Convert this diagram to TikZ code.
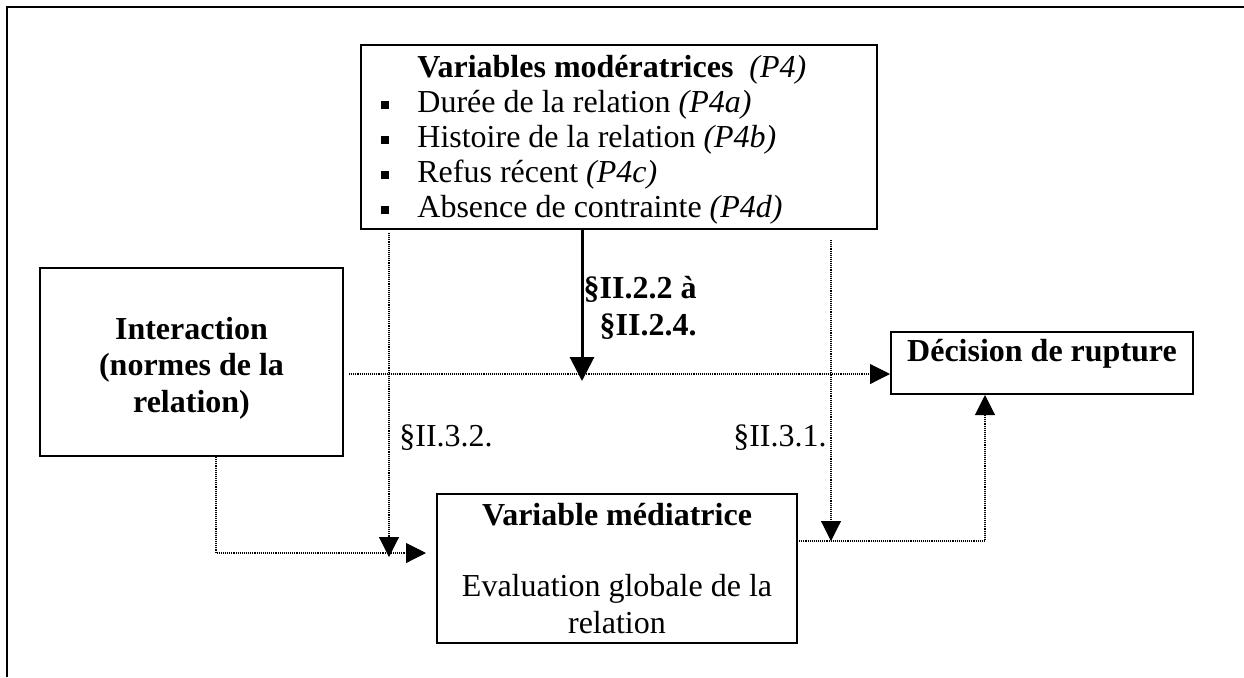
\documentclass[tikz,border=0pt]{standalone}
\usepackage{fontspec}
\setmainfont{Liberation Serif}
\usetikzlibrary{arrows.meta,calc}
\newcommand{\bsq}{\makebox[18pt][l]{\rule[1.6pt]{4pt}{4pt}}}
\begin{document}
\begin{tikzpicture}[x=0.5pt,y=-0.5pt,
  txt/.style={font=\fontsize{16}{18.3}\selectfont},
  btxt/.style={font=\fontsize{16}{18.3}\selectfont\bfseries},
  box/.style={draw,line width=1pt,inner sep=0pt,txt},
  dotline/.style={line width=0.55pt,dash pattern=on 0.55pt off 0.5pt,-{Triangle[length=10pt,width=10pt]}},
  thickarrow/.style={line width=1.5pt,-{Triangle[length=12pt,width=12pt]}}]
\useasboundingbox (0,0) rectangle (1244,677);
% outer frame
\draw[line width=0.8pt] (1244,7) -- (7,7) -- (7,677);
% boxes
\node[box,minimum width=258pt,minimum height=92pt] (mod) at (619,137) {};
\node[font=\fontsize{16}{17.5}\selectfont,anchor=north west,inner sep=0pt,align=left] (modtxt) at (381,55)
  {\hspace*{18pt}\textbf{Variables modératrices}\hspace{8pt}\textit{(P4)}\\
   \bsq Durée de la relation \textit{(P4a)}\\
   \bsq Histoire de la relation \textit{(P4b)}\\
   \bsq Refus récent \textit{(P4c)}\\
   \bsq Absence de contrainte \textit{(P4d)}};
\node[box,minimum width=151.5pt,minimum height=94pt] (inter) at (191.5,362) {};
\node[btxt,align=center,inner sep=0pt] (intertxt) at (191.5,368) {Interaction\\(normes de la\\relation)};
\node[box,minimum width=151pt,text height=14.75pt,text depth=16.25pt,font=\fontsize{16}{18.3}\selectfont\bfseries] (dec) at (1042,331) [anchor=north] {Décision de rupture};
\node[box,minimum width=180pt,minimum height=74.5pt,align=center] (med) at (617,568.5)
  {\textbf{Variable médiatrice}\\[17pt]Evaluation globale de la\\relation};
% labels
\node[font=\fontsize{16}{18.3}\selectfont\bfseries,align=right,inner sep=0pt,anchor=east] (l22) at (697,308) {§II.2.2 à\\§II.2.4.};
\node[txt,inner sep=0pt,anchor=west] (l32) at (399,438) {§II.3.2.};
\node[txt,inner sep=0pt,anchor=east] (l31) at (827,438) {§II.3.1.};
% coordinates
\coordinate (thtip) at (582,381);
\coordinate (hL) at (349,374);
\coordinate (v1t) at (389,233);
\coordinate (v1b) at (389,557);
\coordinate (v2t) at (831,240);
\coordinate (v2b) at (831,541);
\coordinate (ic) at (216,553);
\coordinate (itip) at (426,553);
\coordinate (ms) at (797,541);
\coordinate (mc) at (985,541);
% connectors
\draw[dotline] (hL) -- (hL -| dec.west);
\draw[thickarrow] (mod.south -| thtip) -- (thtip);
\draw[dotline] (v1t) -- (v1b);
\draw[dotline] (v2t) -- (v2b);
\draw[dotline] (inter.south -| ic) -- (ic) -- (itip);
\draw[dotline] (ms) -- (mc) -- (mc |- dec.south);
\end{tikzpicture}
\end{document}
